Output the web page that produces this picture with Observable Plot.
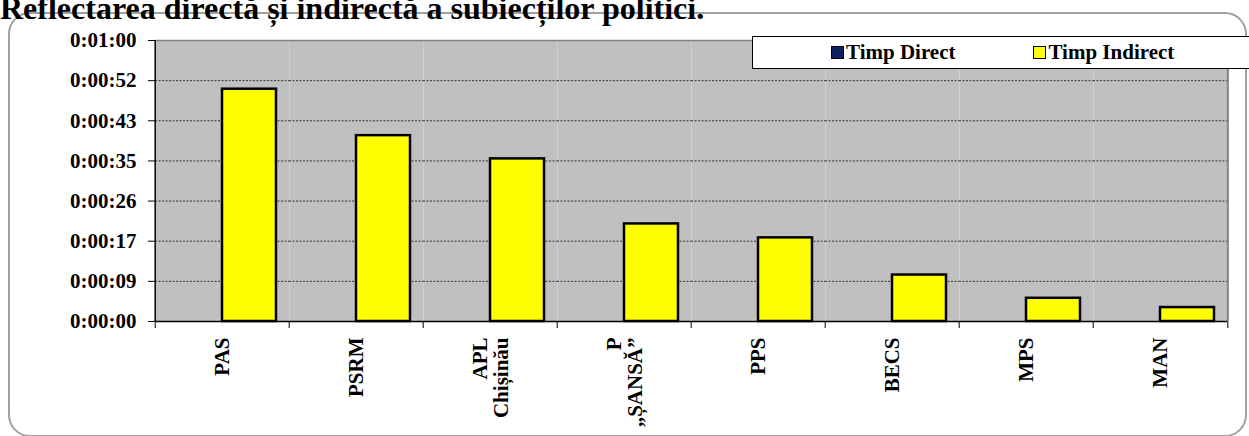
<!DOCTYPE html>
<html>
<head>
<meta charset="utf-8">
<script src="https://cdn.jsdelivr.net/npm/d3@7"></script>
<script src="https://cdn.jsdelivr.net/npm/@observablehq/plot@0.6"></script>
<style>
html,body{margin:0;padding:0;background:#fff;overflow:hidden;}
#wrap{position:relative;width:1249px;height:436px;overflow:hidden;font-family:"Liberation Serif","Times New Roman",serif;font-weight:bold;color:#000;}
#title{position:absolute;left:0;top:-7px;font-size:32px;line-height:30px;white-space:nowrap;z-index:3;}
#frame{position:absolute;left:8px;top:12px;width:1235px;height:421px;border:2px solid #a0a0a0;border-radius:22px;z-index:2;pointer-events:none;}
#chart{position:absolute;left:0;top:0;z-index:1;}
#legend{position:absolute;left:752px;top:36px;width:520px;height:33px;border:1px solid #000;background:#fff;z-index:4;display:flex;align-items:center;box-sizing:border-box;padding-left:78px;font-size:21px;white-space:nowrap;}
#legend .item{display:flex;align-items:center;margin-right:78px;}
#legend .sw{width:11px;height:11px;border:1.5px solid #000;margin-right:2px;}
</style>
</head>
<body>
<div id="wrap">
  <div id="chart"></div>
  <div id="frame"></div>
  <div id="title">Reflectarea directă și indirectă a subiecților politici.</div>
  <div id="legend"></div>
</div>
<script>
// ---- data ----
const categories = ["PAS", "PSRM", "APL\nChișinău", "P\n„ȘANSĂ”", "PPS", "BECS", "MPS", "MAN"];
const series = ["Timp Direct", "Timp Indirect"];
const seriesColors = ["#0a2060", "#ffff00"];
const timpDirect = [0, 0, 0, 0, 0, 0, 0, 0];        // seconds
const timpIndirect = [50, 40, 35, 21, 18, 10, 5, 3]; // seconds
const yTickValues = [0, 8.64, 17.28, 25.92, 34.56, 43.2, 51.84, 60.48];
const yTickLabels = ["0:00:00", "0:00:09", "0:00:17", "0:00:26", "0:00:35", "0:00:43", "0:00:52", "0:01:00"];

const rows = [];
categories.forEach((c, i) => {
  rows.push({cat: c, series: series[0], value: timpDirect[i]});
  rows.push({cat: c, series: series[1], value: timpIndirect[i]});
});

// ---- layout ----
const W = 1249, H = 436, mL = 152, mR = 20, mT = 40, mB = 115;
const step = (W - mL - mR) / categories.length;
const yMax = yTickValues[yTickValues.length - 1];

const chart = Plot.plot({
  width: W, height: H,
  marginLeft: mL, marginRight: mR, marginTop: mT, marginBottom: mB,
  style: {fontFamily: "Liberation Serif, 'Times New Roman', serif", fontSize: "21px", fontWeight: "bold", color: "#000", background: "transparent", overflow: "visible"},
  fx: {domain: categories, padding: 0, label: null},
  x: {domain: series, paddingInner: 0, paddingOuter: 0.224, axis: null},
  y: {domain: [0, yMax], label: null},
  color: {domain: series, range: seriesColors},
  marks: [
    Plot.frame({fill: "#c0c0c0"}),
    Plot.gridY(yTickValues.slice(1, -1), {stroke: "#333", strokeOpacity: 1, strokeDasharray: "2,1.5"}),
    Plot.ruleY([yMax], {stroke: "#808080", strokeWidth: 1.5}),
    Plot.barY(rows, {fx: "cat", x: "series", y: "value", fill: "series", stroke: "#000", strokeWidth: 2.5}),
    Plot.ruleY([0], {stroke: "#000", strokeWidth: 1.5}),
    // category boundary ticks
    Plot.ruleX(categories, {fx: d => d, x: null, dx: -step / 2, insetTop: H - mT - mB, insetBottom: -7, stroke: "#000"}),
    Plot.ruleX(categories.slice(-1), {fx: d => d, x: null, dx: step / 2, insetTop: H - mT - mB, insetBottom: -7, stroke: "#000"}),
    // left axis line and right border
    Plot.ruleX(categories.slice(0, 1), {fx: d => d, x: null, dx: -step / 2, stroke: "#000", strokeWidth: 1.5}),
    Plot.ruleX(categories.slice(-1), {fx: d => d, x: null, dx: step / 2, stroke: "#808080", strokeWidth: 2}),
    Plot.axisY({ticks: yTickValues, tickFormat: d => yTickLabels[yTickValues.indexOf(d)], tickSize: 7, tickPadding: 12, label: null}),
    Plot.axisFx({anchor: "bottom", tickRotate: -90, tickSize: 0, tickPadding: 16, label: null})
  ]
});
document.getElementById("chart").appendChild(chart);

// ---- legend ----
const legend = document.getElementById("legend");
series.forEach((s, i) => {
  const it = document.createElement("div");
  it.className = "item";
  const sw = document.createElement("div");
  sw.className = "sw";
  sw.style.background = seriesColors[i];
  const tx = document.createElement("span");
  tx.textContent = s;
  it.appendChild(sw);
  it.appendChild(tx);
  legend.appendChild(it);
});
</script>
</body>
</html>
